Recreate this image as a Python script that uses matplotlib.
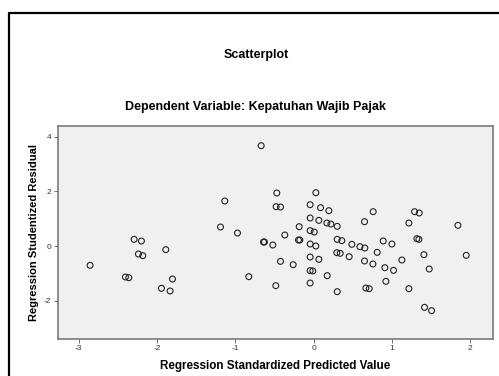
#!/usr/bin/env python3

import matplotlib
matplotlib.use("Agg")
import matplotlib.pyplot as plt
from matplotlib.lines import Line2D

plt.rcParams['font.family'] = ['Liberation Sans', 'DejaVu Sans']
plt.rcParams['axes.unicode_minus'] = False

# values
predicted = [
    -2.856, -2.404, -2.361, -2.293, -2.200, -2.238, -2.182, -1.888, -1.803,
    -1.944, -1.833, -1.189, -1.134, -0.972, -0.827, -0.669, -0.639, -0.627,
    -0.520, -0.469, -0.478, -0.422, -0.367, -0.422, -0.482, -0.260, -0.183,
    -0.192, -0.175, -0.043, -0.043, -0.043, 0.009, -0.043, 0.030, -0.043,
    0.068, -0.043, -0.009, -0.043, 0.030, 0.090, 0.068, 0.196, 0.171, 0.222,
    0.303, 0.303, 0.362, 0.298, 0.341, 0.175, 0.303, 0.456, 0.490, 0.593,
    0.656, 0.652, 0.763, 0.814, 0.652, 0.759, 0.669, 0.712, 0.891, 1.002,
    0.912, 1.023, 0.925, 1.130, 1.219, 1.292, 1.351, 1.321, 1.347, 1.411,
    1.479, 1.219, 1.419, 1.509, 1.846, 1.952,
]
residual = [
    -0.707, -1.133, -1.158, 0.244, 0.183, -0.293, -0.353, -0.134, -1.207,
    -1.548, -1.645, 0.695, 1.645, 0.475, -1.121, 3.668, 0.146, 0.146,
    0.037, 1.938, 1.438, 1.426, 0.402, -0.561, -1.450, -0.683, 0.707,
    0.219, 0.219, 1.511, 1.024, 0.561, 0.512, 0.073, 0.000, -0.402,
    -0.488, -0.902, -0.914, -1.353, 1.950, 1.402, 0.938, 1.292, 0.841, 0.804,
    0.719, 0.244, 0.195, -0.244, -0.268, -1.085, -1.670, -0.390, 0.061, -0.024,
    -0.073, 0.890, 1.255, -0.232, -0.548, -0.658, -1.536, -1.560, 0.183, 0.073,
    -0.792, -0.890, -1.292, -0.512, 0.841, 1.255, 1.207, 0.268, 0.244, -0.317,
    -0.841, -1.560, -2.243, -2.364, 0.756, -0.341,
]

x_ticks = [-3, -2, -1, 0, 1, 2]
y_ticks = [-2, 0, 2, 4]

fig = plt.figure(figsize=(4.99, 3.76), dpi=100)
ax = fig.add_axes([0.1156, 0.0992, 0.8717, 0.5665])
ax.set_facecolor('#f0f0f0')

ax.scatter(predicted, residual, s=18, facecolors='none',
           edgecolors='#222222', linewidths=0.8)

ax.set_xlim(-3.27, 2.29)
ax.set_ylim(-3.39, 4.40)
ax.set_xticks(x_ticks)
ax.set_yticks(y_ticks)
ax.tick_params(labelsize=6, length=3, width=0.6, color='#555555',
               labelcolor='#333333', pad=1.5)
for s in ax.spines.values():
    s.set_color('#7a7a7a')
    s.set_linewidth(1.2)

ax.set_xlabel('Regression Standardized Predicted Value', fontsize=8.4,
              fontweight='bold', labelpad=6)
ax.set_ylabel('Regression Studentized Residual', fontsize=8,
              fontweight='bold', labelpad=4)

fig.text(255.8 / 499, 1 - 55 / 376, 'Scatterplot', fontsize=9,
         fontweight='bold', ha='center', va='center')
fig.text(255.8 / 499, 1 - 106.7 / 376, 'Dependent Variable: Kepatuhan Wajib Pajak',
         fontsize=9, fontweight='bold', ha='center', va='center')

# black frame at top and left
fig.add_artist(Line2D([8.5 / 499, 8.5 / 499, 1], [0, 1 - 12.7 / 376, 1 - 12.7 / 376],
                      color='black', linewidth=1.6, transform=fig.transFigure))

fig.savefig('out.png', dpi=100)
